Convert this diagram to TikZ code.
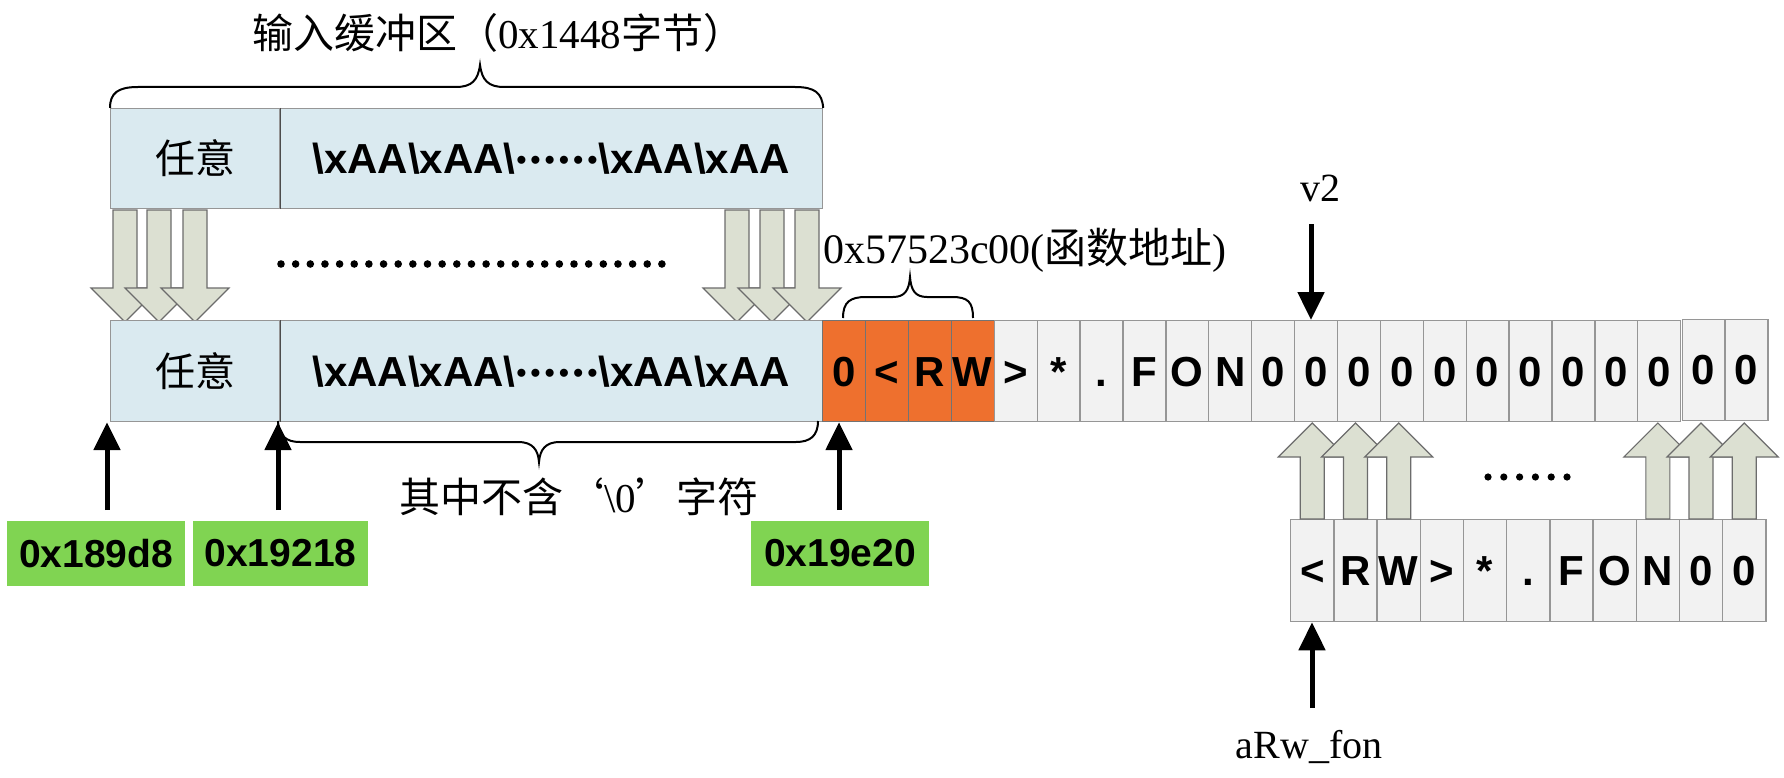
\documentclass[tikz,border=0pt]{standalone}
\usepackage{fontspec}
\setmainfont{Liberation Serif}
\newfontfamily\cjk{Noto Sans CJK SC}
\newfontfamily\arial{Liberation Sans}
\usetikzlibrary{arrows.meta}
\definecolor{boxblue}{RGB}{218,234,240}
\definecolor{cellgray}{RGB}{242,242,242}
\definecolor{cellorange}{RGB}{238,112,46}
\definecolor{arrfill}{RGB}{220,224,210}
\definecolor{lblgreen}{RGB}{128,212,82}
\definecolor{edgegray}{RGB}{150,150,150}
\newcommand\fsz[1]{\fontsize{#1}{#1}\selectfont}
\newcommand\mdots{\raisebox{4pt}{\fsz{28}\kern1pt•\kern4.4pt•\kern4.4pt•\kern4.4pt•\kern4.4pt•\kern4.4pt•\kern1pt}}
\begin{document}
\begin{tikzpicture}[x=1pt,y=-1pt,
  buf/.style={draw=edgegray, line width=1.2pt, fill=boxblue, inner sep=0pt, anchor=north west},
  gcell/.style={draw=edgegray, line width=1.3pt, fill=cellgray, inner sep=0pt, anchor=north west,
    minimum width=42.9pt, minimum height=101pt, font=\arial\bfseries\fsz{42}, text height=30pt, text depth=0pt},
  ocell/.style={gcell, fill=cellorange, draw=black!55},
  lbl/.style={fill=lblgreen, inner sep=0pt, minimum height=65pt, font=\arial\bfseries\fsz{39}},
  blkarrow/.style={fill=arrfill, draw=gray!85!black, line width=1.2pt, line join=miter},
  ptr/.style={line width=5pt, -{Triangle[width=26pt,length=28pt]}},
  bracel/.style={line width=2pt},
  divline/.style={draw=black!70, line width=1.2pt},
  downblk/.pic={\draw[blkarrow] (-12,-112) -- (12,-112) -- (12,-34) -- (34,-34) -- (0,0) -- (-34,-34) -- (-12,-34) -- cycle;},
  upblk/.pic={\draw[blkarrow] (-12,96) -- (12,96) -- (12,34) -- (34,34) -- (0,0) -- (-34,34) -- (-12,34) -- cycle;}
]
\useasboundingbox (0,0) rectangle (1784,778);

% title
\node[font=\fsz{41}, inner sep=0pt] (title) at (498,33) {{\cjk 输入缓冲区（}0x1448{\cjk 字节）}};

% top buffer
\node[buf, minimum width=169pt, minimum height=100pt] (tl) at (110,108) {\cjk\fsz{40}任意};
\node[buf, minimum width=543pt, minimum height=100pt, font=\arial\bfseries\fsz{42}, text height=30pt, text depth=0pt] (tr) at (279,108)
  {\textbackslash xAA\textbackslash xAA\textbackslash\mdots\textbackslash xAA\textbackslash xAA};
\draw[divline] (tl.north east) -- (tl.south east);

% top brace
\draw[bracel] (tl.north west) .. controls (110,93) and (118,87) .. (138,87) -- (456,87)
  .. controls (472,87) and (478,80) .. (480,65) .. controls (482,80) and (488,87) .. (504,87)
  -- (795,87) .. controls (815,87) and (822,93) .. (tr.north east);

% down arrows
\foreach \x in {125,159,195,737,772,807} \pic at (\x,322) {downblk};

% dots
\foreach \k in {0,...,26} \fill ({281+\k*14.65},264) circle (3.8pt);

% bottom buffer
\node[buf, minimum width=169pt, minimum height=101pt] (bl) at (110,320) {\cjk\fsz{40}任意};
\node[buf, minimum width=543pt, minimum height=101pt, font=\arial\bfseries\fsz{42}, text height=30pt, text depth=0pt] (br) at (279,320)
  {\textbackslash xAA\textbackslash xAA\textbackslash\mdots\textbackslash xAA\textbackslash xAA};
\draw[divline] (bl.north east) -- (bl.south east);

% cells top row
\foreach \c [count=\i from 0] in {0,<,R,W} \node[ocell] (t\i) at ({822+\i*42.9},320) {\c};
\foreach \c [count=\i from 4] in {>,*,.,F,O,N,0,0,0,0,0,0,0,0,0,0} \node[gcell] (t\i) at ({822+\i*42.9},320) {\c};
\node[gcell] (t20) at ({822+20*42.9+1.5},318.5) {0};
\node[gcell] (t21) at ({822+21*42.9+1.5},318.5) {0};

% small brace and label
\draw[bracel] (843,318) .. controls (843,302) and (850,297) .. (866,297) -- (893,297)
  .. controls (905,297) and (909,290) .. (910,277) .. controls (911,290) and (915,297) .. (927,297)
  -- (952,297) .. controls (968,297) and (973,302) .. (973,318);
\node[font=\fsz{42}, inner sep=0pt, anchor=west] (faddr) at (823,250) {0x57523c00({\cjk 函数地址})};

% v2
\node[font=\fsz{40}, inner sep=0pt] (v2) at (1320,188) {v2};
\coordinate (v2s) at (1311,224);
\draw[ptr] (v2s) -- (v2s |- t11.north);

% second row
\foreach \c [count=\i from 0] in {<,R,W,>,*,.,F,O,N,0,0}
  \node[gcell, minimum width=43.2pt, minimum height=102pt] (b\i) at ({1290+\i*43.2},519) {\c};
\foreach \i in {0,1,2,8,9,10} \path (b\i.north) ++(0,-96) pic {upblk};
\foreach \k in {0,...,5} \fill ({1488+\k*15.8},477) circle (3.6pt);

% aRw_fon
\node[font=\fsz{40}, inner sep=0pt] (arw) at (1309,747) {aRw\_fon};
\coordinate (as) at (1312,708);
\draw[ptr] (as) -- (as |- b0.south);

% lower brace and text
\draw[bracel] (278,421) .. controls (279,436) and (286,442) .. (300,442) -- (518,442)
  .. controls (533,442) and (538,450) .. (539,462) .. controls (540,450) and (545,442) .. (560,442)
  -- (796,442) .. controls (810,442) and (818,436) .. (818,421);
\node[font=\fsz{41}, inner sep=0pt] (nozero) at (579,497) {{\cjk 其中不含‘}\textbackslash 0{\cjk ’字符}};

% address labels
\node[lbl, minimum width=178pt] (g1) at (96,553.5) {0x189d8};
\node[lbl, minimum width=175pt] (g2) at (280.5,553.5) {0x19218};
\node[lbl, minimum width=178pt] (g3) at (840,553.5) {0x19e20};
\coordinate (pa) at (107,510);
\coordinate (pb) at (278,510);
\coordinate (pc) at (839,510);
\draw[ptr] (pa) -- (pa |- bl.south);
\draw[ptr] (pb) -- (pb |- bl.south);
\draw[ptr] (pc) -- (pc |- br.south);
\end{tikzpicture}
\end{document}
